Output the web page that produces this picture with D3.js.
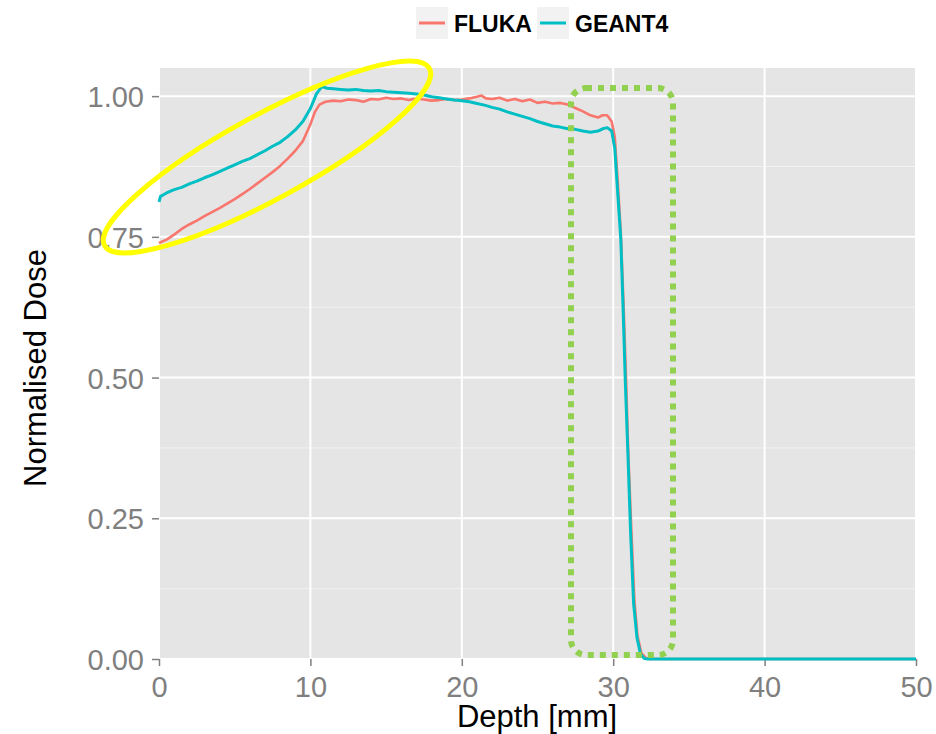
<!DOCTYPE html>
<html>
<head>
<meta charset="utf-8">
<script src="https://cdn.jsdelivr.net/npm/d3@7"></script>
<style>
	body{margin:0;background:#fff}
	text{font-family:"Liberation Sans",Arial,sans-serif}
</style>
</head>
<body>
<div class="chart"></div>
<script>
// depth in mm, dose normalised
const flukaDepth=[0,0.5,1,1.5,2,2.5,3,3.5,4,4.5,5,5.5,6,6.5,7,7.5,8,8.5,9,9.5,10,10.3,10.6,11,11.5,12,12.5,13,13.5,14,14.5,15,15.5,16,16.5,17,17.5,18,18.5,19,19.5,20,20.5,21,21.3,21.6,22,22.5,23,23.5,24,24.5,25,25.5,26,26.5,27,27.5,28,28.5,29,29.3,29.6,29.9,30.1,30.3,30.5,30.7,30.85,31,31.2,31.4,31.6,31.85,32.15,32.4,50]
const flukaDose=[0.739,0.745,0.754,0.764,0.772,0.779,0.787,0.794,0.801,0.809,0.817,0.826,0.835,0.845,0.855,0.865,0.876,0.889,0.903,0.920,0.950,0.972,0.985,0.990,0.992,0.991,0.994,0.993,0.990,0.995,0.994,0.997,0.995,0.996,0.993,0.996,0.994,0.992,0.993,0.995,0.993,0.994,0.996,0.999,1.001,0.996,0.995,0.997,0.992,0.995,0.991,0.994,0.988,0.990,0.987,0.988,0.985,0.979,0.973,0.966,0.962,0.966,0.966,0.955,0.928,0.848,0.758,0.618,0.495,0.362,0.228,0.104,0.042,0.011,0.002,0,0]

const geantDepth=[0,0.1,0.5,1,1.5,2,2.5,3,3.5,4,4.5,5,5.5,6,6.5,7,7.5,8,8.5,9,9.5,10,10.4,10.75,11.1,11.5,12,12.5,13,13.5,14,14.5,15,15.5,16,16.5,17,17.5,18,18.5,19,19.5,20,20.5,21,21.5,22,22.5,23,23.5,24,24.5,25,25.5,26,26.5,27,27.5,28,28.5,29,29.3,29.6,29.9,30.1,30.3,30.5,30.65,30.8,30.98,31.15,31.35,31.57,31.8,32.05,32.3,50]
const geantDose=[0.812,0.822,0.828,0.834,0.838,0.844,0.849,0.855,0.860,0.866,0.872,0.878,0.884,0.889,0.896,0.903,0.911,0.918,0.928,0.940,0.955,0.978,1.004,1.017,1.014,1.013,1.012,1.011,1.012,1.010,1.009,1.010,1.008,1.007,1.006,1.005,1.004,1.002,0.999,0.997,0.995,0.993,0.992,0.990,0.987,0.984,0.980,0.977,0.972,0.968,0.964,0.960,0.955,0.951,0.947,0.945,0.942,0.941,0.938,0.936,0.938,0.942,0.944,0.938,0.908,0.827,0.747,0.626,0.492,0.358,0.224,0.098,0.038,0.009,0.001,0,0]

const xTicks=[0,10,20,30,40,50]
const yTicks=[0,0.25,0.5,0.75,1]
const yMinor=[0.125,0.375,0.625,0.875]
const seriesNames=['FLUKA','GEANT4']
const seriesColors=['#F8766D','#00BFC4']

const margin=({top:68,right:20,bottom:75,left:159})
const width=936-margin.left-margin.right,
	height=734-margin.top-margin.bottom

const svg=d3.select('.chart').append('svg')
	.attr('width',936)
	.attr('height',734)

const g=svg.append('g')
	.attr('transform','translate('+margin.left+','+margin.top+')')

let xScale=d3.scaleLinear()
	.domain([0,50])
	.range([0,757])

let yScale=d3.scaleLinear()
	.domain([0,1.05])
	.range([591,0])

// panel
g.append('rect')
	.attr('width',757)
	.attr('height',591)
	.attr('fill','#E5E5E5')

g.selectAll('.minor')
	.data(yMinor)
	.enter()
	.append('line')
	.attr('class','minor')
	.attr('x1',0).attr('x2',757)
	.attr('y1',d=>yScale(d)).attr('y2',d=>yScale(d))
	.attr('stroke','#F2F2F2')
	.attr('stroke-width',1)

g.selectAll('.hgrid')
	.data(yTicks)
	.enter()
	.append('line')
	.attr('class','hgrid')
	.attr('x1',0).attr('x2',757)
	.attr('y1',d=>yScale(d)).attr('y2',d=>yScale(d))
	.attr('stroke','#fff')
	.attr('stroke-width',2)

g.selectAll('.vgrid')
	.data(xTicks)
	.enter()
	.append('line')
	.attr('class','vgrid')
	.attr('y1',0).attr('y2',591)
	.attr('x1',d=>xScale(d)).attr('x2',d=>xScale(d))
	.attr('stroke','#fff')
	.attr('stroke-width',2)

// axes
let xAxis=d3.axisBottom()
	.scale(xScale)
	.tickValues(xTicks)
	.tickSize(7)
	.tickPadding(10)

let yAxis=d3.axisLeft()
	.scale(yScale)
	.tickValues(yTicks)
	.tickSize(7)
	.tickPadding(8)
	.tickFormat(d3.format('.2f'))

g.append('g')
	.attr('class','x-axis')
	.attr('transform',`translate(0,591)`)
	.call(xAxis)

g.append('g')
	.attr('class','y-axis')
	.call(yAxis)

g.selectAll('.domain').remove()
g.selectAll('.tick line')
	.attr('stroke','#7F7F7F')
	.attr('stroke-width',1.5)
g.selectAll('.tick text')
	.attr('fill','#7F7F7F')
	.style('font-size','29px')
	.style('font-family','"Liberation Sans",Arial,sans-serif')
g.select('.y-axis').selectAll('.tick text')
	.attr('dy','0.36em')

// lines
const line=d3.line()
	.x(d=>xScale(d[0]))
	.y(d=>yScale(d[1]))

const flukaData=flukaDepth.map((d,i)=>[d,flukaDose[i]])
const geantData=geantDepth.map((d,i)=>[d,geantDose[i]])

g.append('path')
	.datum(flukaData)
	.attr('d',line)
	.attr('fill','none')
	.attr('stroke',seriesColors[0])
	.attr('stroke-width',2.6)
	.attr('stroke-linejoin','round')

g.append('path')
	.datum(geantData)
	.attr('d',line)
	.attr('fill','none')
	.attr('stroke',seriesColors[1])
	.attr('stroke-width',3)
	.attr('stroke-linejoin','round')

// axis titles
svg.append('text')
	.attr('x',537)
	.attr('y',727)
	.attr('text-anchor','middle')
	.style('font-size','31px')
	.text('Depth [mm]')

svg.append('text')
	.attr('transform','translate(46,368) rotate(-90)')
	.attr('text-anchor','middle')
	.style('font-size','31px')
	.text('Normalised Dose')

// legend
const legendX=[416,537]
seriesNames.forEach(function(name,i){
	svg.append('rect')
		.attr('x',legendX[i])
		.attr('y',7)
		.attr('width',32)
		.attr('height',32)
		.attr('fill','#F2F2F2')
	svg.append('line')
		.attr('x1',legendX[i]+3)
		.attr('x2',legendX[i]+29)
		.attr('y1',23)
		.attr('y2',23)
		.attr('stroke',seriesColors[i])
		.attr('stroke-width',3)
	svg.append('text')
		.attr('x',legendX[i]+38)
		.attr('y',32)
		.style('font-size','23px')
		.style('font-weight','bold')
		.text(name)
})

// annotations
svg.append('ellipse')
	.attr('cx',267)
	.attr('cy',157)
	.attr('rx',185)
	.attr('ry',42)
	.attr('transform','rotate(-28.6,267,157)')
	.attr('fill','none')
	.attr('stroke','#FFFF00')
	.attr('stroke-width',5)

svg.append('rect')
	.attr('x',571)
	.attr('y',88)
	.attr('width',102)
	.attr('height',567)
	.attr('rx',15)
	.attr('fill','none')
	.attr('stroke','#92D050')
	.attr('stroke-width',6)
	.attr('stroke-dasharray','6 6')
</script>
</body>
</html>
